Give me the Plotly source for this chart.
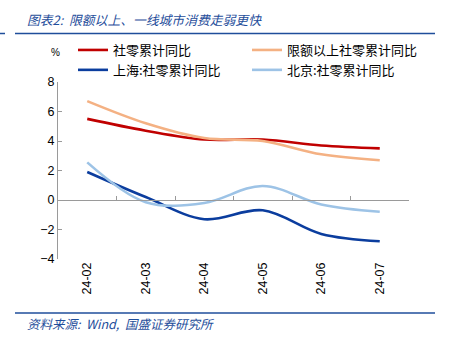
import plotly.graph_objects as go

categories = ["24-02", "24-03", "24-04", "24-05", "24-06", "24-07"]
retail_total = [5.5, 4.7, 4.1, 4.1, 3.7, 3.5]
retail_above = [6.7, 5.2, 4.2, 4.0, 3.1, 2.7]
shanghai = [1.9, 0.2, -1.3, -0.7, -2.3, -2.8]
beijing = [2.55, -0.15, -0.2, 0.95, -0.3, -0.8]

names = ["社零累计同比", "限额以上社零累计同比", "上海:社零累计同比", "北京:社零累计同比"]
series = [retail_total, retail_above, shanghai, beijing]
colors = ["#C00000", "#F4B183", "#0B3D9E", "#9DC3E6"]
legends = ["legend", "legend2", "legend", "legend2"]

W, H = 450, 342
L, R, T, B = 58, 41, 82, 83
pw, ph = W - L - R, H - T - B

fig = go.Figure()
for n, s, c, lg in zip(names, series, colors, legends):
    fig.add_trace(go.Scatter(x=categories, y=s, name=n, mode="lines", legend=lg,
                             line=dict(color=c, width=2.6, shape="spline", smoothing=1.0)))
# helper trace for the zero-crossing axis
fig.add_trace(go.Scatter(x=categories, y=[None] * len(categories), xaxis="x2",
                         showlegend=False, hoverinfo="skip"))

axis_color = "#9A9A9A"
legend_font = dict(family="Noto Sans CJK SC", size=13, color="black")
leg_y = 1 + (T - 35) / ph
fig.update_layout(
    width=W, height=H,
    margin=dict(l=L, r=R, t=T, b=B),
    plot_bgcolor="white", paper_bgcolor="white",
    font=dict(family="Liberation Sans, Arial", color="black", size=12.5),
    showlegend=True,
    legend=dict(orientation="v", x=(73 - L) / pw, xanchor="left",
                y=leg_y, yanchor="top", font=legend_font, tracegroupgap=0,
                itemwidth=30, bgcolor="rgba(0,0,0,0)"),
    legend2=dict(orientation="v", x=(247 - L) / pw, xanchor="left",
                 y=leg_y, yanchor="top", font=legend_font, tracegroupgap=0,
                 itemwidth=30, bgcolor="rgba(0,0,0,0)"),
    xaxis=dict(type="category", range=[-0.5, 5.5], showline=False, ticks="",
               showgrid=False, zeroline=False, tickangle=-90,
               tickfont=dict(size=12.5, color="black")),
    xaxis2=dict(type="category", range=[-0.5, 5.5], overlaying="x", matches="x",
                anchor="free", position=1 / 3, side="bottom",
                showline=True, linecolor=axis_color, linewidth=1,
                ticks="inside", tickson="boundaries", ticklen=4, tickcolor=axis_color,
                showticklabels=False, showgrid=False, zeroline=False),
    yaxis=dict(range=[-4, 8], dtick=2, showline=True, linecolor=axis_color, linewidth=1,
               ticks="inside", ticklen=4, tickcolor=axis_color, showgrid=False,
               zeroline=False, tickfont=dict(size=12.5, color="black")),
)

blue = "#1F4E9B"
fig.add_annotation(xref="paper", yref="paper", x=(25 - L) / pw, y=1 + (T - 19) / ph,
                   xanchor="left", yanchor="middle", showarrow=False,
                   text="<i>图表2:  限额以上、一线城市消费走弱更快</i>",
                   font=dict(family="Noto Sans CJK SC", size=12.8, color=blue))
fig.add_annotation(xref="paper", yref="paper", x=(25 - L) / pw, y=-(323 - T - ph) / ph,
                   xanchor="left", yanchor="middle", showarrow=False,
                   text="<i>资料来源:  Wind,  国盛证券研究所</i>",
                   font=dict(family="Noto Sans CJK SC", size=12.5, color=blue))
fig.add_annotation(xref="paper", yref="paper", x=(55 - L) / pw, y=1 + (T - 52) / ph,
                   xanchor="center", yanchor="middle", showarrow=False,
                   text="%", font=dict(size=10, color="black"))

def hline(x0, x1, ypx, w=1.5):
    fig.add_shape(type="line", xref="paper", yref="paper",
                  x0=(x0 - L) / pw, x1=(x1 - L) / pw,
                  y0=1 - (ypx - T) / ph, y1=1 - (ypx - T) / ph,
                  line=dict(color=blue, width=w))

hline(0, 5, 33.5)
hline(15, 435, 33.5)
hline(15, 435, 313)

fig.write_html("out.html")
